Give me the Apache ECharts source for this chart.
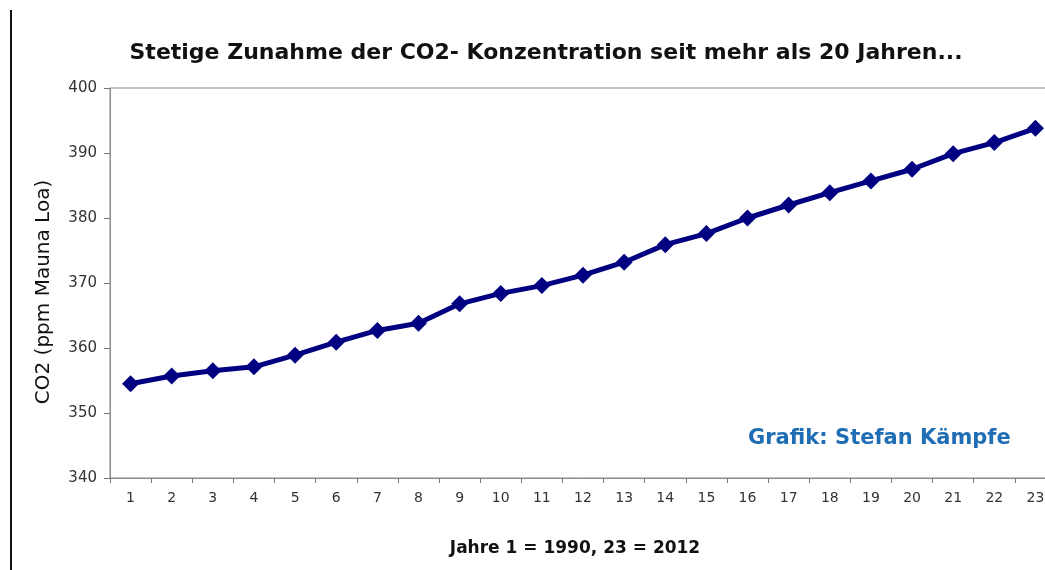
<!DOCTYPE html>
<html>
<head>
<meta charset="utf-8">
<script src="https://cdn.jsdelivr.net/npm/echarts@6/dist/echarts.min.js"></script>
<style>
html,body{margin:0;padding:0;background:#fff;}
#main{width:1045px;height:570px;}
</style>
</head>
<body>
<div id="main"></div>
<script>
// Jahre 1..23 (1990..2012)
var jahre = ['1','2','3','4','5','6','7','8','9','10','11','12','13','14','15','16','17','18','19','20','21','22','23'];
// CO2 Mauna Loa, ppm
var co2 = [354.5, 355.7, 356.5, 357.1, 358.9, 360.9, 362.7, 363.8, 366.8, 368.4, 369.6, 371.2, 373.2, 375.9, 377.6, 380.0, 382.0, 383.9, 385.7, 387.5, 389.9, 391.6, 393.8];
var yTicks = {min: 340, max: 400, step: 10};

var myChart = echarts.init(document.getElementById('main'));

option = {
    backgroundColor: '#fff',
    animation: false,
    title: {
        text: 'Stetige Zunahme der CO2- Konzentration seit mehr als 20 Jahren...',
        left: 541,
        textAlign: 'center',
        top: 37,
        textStyle: {
            fontFamily: 'DejaVu Sans',
            fontWeight: 'bold',
            fontSize: 22,
            color: '#111'
        }
    },
    grid: {
        left: 110,
        top: 88,
        width: 946,
        height: 390,
        outerBoundsMode: 'none',
        containLabel: false,
        show: true,
        borderColor: '#8a8a8a',
        borderWidth: 1
    },
    xAxis: {
        type: 'category',
        data: jahre,
        boundaryGap: true,
        name: 'Jahre 1 = 1990, 23 = 2012',
        nameLocation: 'middle',
        nameGap: 62,
        nameTextStyle: {
            fontFamily: 'DejaVu Sans',
            fontWeight: 'bold',
            fontSize: 17,
            color: '#111',
            padding: [0, 16, 0, 0]
        },
        axisLine: {lineStyle: {color: '#8a8a8a', width: 1}},
        axisTick: {show: true, interval: 0, length: 5, lineStyle: {color: '#777'}},
        axisLabel: {
            interval: 0,
            margin: 13,
            fontFamily: 'DejaVu Sans',
            fontSize: 14,
            color: '#333'
        },
        splitLine: {show: false}
    },
    yAxis: {
        type: 'value',
        min: yTicks.min,
        max: yTicks.max,
        interval: yTicks.step,
        name: 'CO2 (ppm Mauna Loa)',
        nameLocation: 'middle',
        nameRotate: 90,
        nameGap: 56,
        nameTextStyle: {
            fontFamily: 'DejaVu Sans',
            fontSize: 20,
            color: '#111',
            padding: [0, 0, 0, -18]
        },
        axisLine: {show: true, lineStyle: {color: '#8a8a8a', width: 1}},
        axisTick: {show: true, length: 6, lineStyle: {color: '#777'}},
        axisLabel: {
            margin: 13,
            fontFamily: 'DejaVu Sans',
            fontSize: 15,
            color: '#333'
        },
        splitLine: {show: false}
    },
    graphic: [
        {
            type: 'line',
            shape: {x1: 11, y1: 10, x2: 11, y2: 570},
            style: {stroke: '#111', lineWidth: 2}
        },
        {
            type: 'text',
            left: 748,
            top: 428,
            style: {
                text: 'Grafik: Stefan Kämpfe',
                fontFamily: 'DejaVu Sans',
                fontWeight: 'bold',
                fontSize: 21,
                fill: '#1f6db4'
            }
        }
    ],
    series: [
        {
            name: 'CO2',
            type: 'line',
            data: co2,
            symbol: 'diamond',
            symbolSize: 17,
            lineStyle: {color: '#000080', width: 5},
            itemStyle: {color: '#000080'}
        }
    ]
};

myChart.setOption(option);
</script>
</body>
</html>
